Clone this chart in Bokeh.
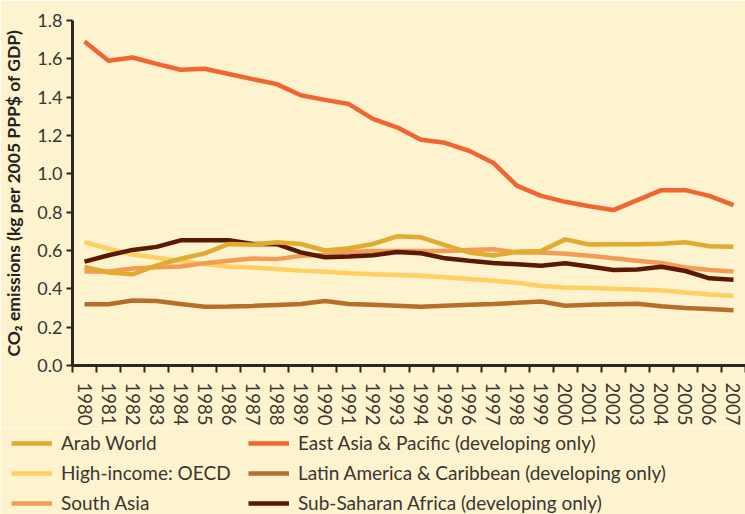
from bokeh.plotting import figure
from bokeh.layouts import column
from bokeh.models import Range1d, FixedTicker, Legend, LegendItem, NumeralTickFormatter
from bokeh.embed import file_html
from bokeh.resources import INLINE

years = list(range(1980, 2008))
arab_world = [0.514, 0.485, 0.476, 0.522, 0.557, 0.585, 0.634, 0.630, 0.643, 0.634, 0.600, 0.612, 0.634, 0.674, 0.669, 0.628, 0.590, 0.574, 0.593, 0.598, 0.658, 0.631, 0.632, 0.633, 0.635, 0.643, 0.622, 0.620]
east_asia = [1.690, 1.590, 1.607, 1.574, 1.543, 1.548, 1.521, 1.494, 1.468, 1.410, 1.386, 1.364, 1.287, 1.243, 1.178, 1.162, 1.120, 1.058, 0.937, 0.885, 0.854, 0.831, 0.811, 0.863, 0.915, 0.915, 0.885, 0.837]
high_income = [0.643, 0.609, 0.579, 0.562, 0.545, 0.528, 0.516, 0.511, 0.503, 0.495, 0.489, 0.481, 0.476, 0.472, 0.468, 0.460, 0.451, 0.442, 0.432, 0.415, 0.407, 0.404, 0.400, 0.397, 0.392, 0.381, 0.371, 0.362]
latin_america = [0.320, 0.320, 0.339, 0.336, 0.321, 0.306, 0.308, 0.311, 0.316, 0.321, 0.337, 0.321, 0.317, 0.312, 0.307, 0.312, 0.317, 0.321, 0.327, 0.334, 0.312, 0.317, 0.320, 0.322, 0.309, 0.300, 0.295, 0.288]
south_asia = [0.490, 0.490, 0.506, 0.512, 0.516, 0.533, 0.547, 0.558, 0.555, 0.572, 0.576, 0.592, 0.597, 0.598, 0.598, 0.598, 0.602, 0.606, 0.590, 0.590, 0.583, 0.573, 0.559, 0.547, 0.535, 0.511, 0.498, 0.490]
sub_saharan = [0.542, 0.575, 0.603, 0.619, 0.653, 0.654, 0.653, 0.634, 0.633, 0.590, 0.565, 0.569, 0.575, 0.592, 0.586, 0.559, 0.546, 0.535, 0.528, 0.520, 0.533, 0.516, 0.498, 0.501, 0.515, 0.493, 0.455, 0.448]

series_names = ["Arab World", "High-income: OECD", "South Asia",
                "East Asia & Pacific (developing only)",
                "Latin America & Caribbean (developing only)",
                "Sub-Saharan Africa (developing only)"]
series_values = [arab_world, high_income, south_asia, east_asia, latin_america, sub_saharan]
colors = ["#E2AA2E", "#FFCF63", "#F49C56", "#F26532", "#B76E2A", "#5A1900"]
y_ticks = [0.0, 0.2, 0.4, 0.6, 0.8, 1.0, 1.2, 1.4, 1.6, 1.8]

BG = "#FDF3CE"
FONT = "Lato"
DARK = "#2A2623"
TXT = "#3A3532"

p = figure(width=745, height=428, output_backend="svg", toolbar_location=None,
           x_range=Range1d(years[0] - 0.5, years[-1] + 0.5), y_range=Range1d(0, 1.8),
           min_border_left=72, min_border_right=0, min_border_top=20, min_border_bottom=60)
p.background_fill_color = BG
p.border_fill_color = BG
p.outline_line_color = None
p.grid.visible = False
p.frame_align = False

# draw order: back to front
order = [4, 1, 2, 5, 0, 3]
for i in order:
    p.line(years, series_values[i], line_color=colors[i], line_width=4.5)

xa = p.xaxis[0]
xa.ticker = FixedTicker(ticks=years, minor_ticks=[y - 0.5 for y in years] + [years[-1] + 0.5])
xa.major_tick_in = 0
xa.major_tick_out = 0
xa.minor_tick_in = 0
xa.minor_tick_out = 7
xa.minor_tick_line_color = DARK
xa.minor_tick_line_width = 2
xa.axis_line_color = DARK
xa.axis_line_width = 3
xa.major_label_orientation = "vertical"
xa.major_label_text_font = FONT
xa.major_label_text_font_size = "18.5px"
xa.major_label_text_color = TXT
xa.major_label_standoff = 10

ya = p.yaxis[0]
ya.ticker = FixedTicker(ticks=y_ticks)
ya.formatter = NumeralTickFormatter(format="0.0")
ya.major_tick_in = 0
ya.major_tick_out = 6
ya.major_tick_line_color = DARK
ya.major_tick_line_width = 2
ya.minor_tick_out = 0
ya.minor_tick_in = 0
ya.axis_line_color = DARK
ya.axis_line_width = 3
ya.major_label_text_font = FONT
ya.major_label_text_font_size = "18px"
ya.major_label_text_color = TXT
ya.major_label_standoff = 4
ya.axis_label = "CO₂ emissions (kg per 2005 PPP$ of GDP)"
ya.axis_label_text_font = FONT
ya.axis_label_text_font_size = "17.5px"
ya.axis_label_text_font_style = "bold"
ya.axis_label_text_color = "#222222"
ya.axis_label_standoff = 10

# legend panel: a second figure whose own line renderers carry the same series
lg = figure(width=745, height=86, output_backend="svg", toolbar_location=None,
            x_range=Range1d(0, 1), y_range=Range1d(0, 1),
            x_axis_location=None, y_axis_location=None,
            min_border_left=0, min_border_right=0, min_border_top=0, min_border_bottom=0)
lg.background_fill_color = BG
lg.border_fill_color = BG
lg.outline_line_color = None
lg.grid.visible = False
lg.frame_align = False
lg_renderers = [lg.line(years, series_values[i], line_color=colors[i], line_width=4.5) for i in range(6)]

def make_legend(idx, x):
    items = [LegendItem(label=series_names[i], renderers=[lg_renderers[i]]) for i in idx]
    return Legend(items=items, orientation="vertical",
                  location=(x, 0), padding=0, margin=0, spacing=7,
                  label_text_font=FONT, label_text_font_size="19px", label_text_color=TXT,
                  glyph_width=41, glyph_height=22, label_height=22, label_standoff=9,
                  background_fill_alpha=0, border_line_color=None)

lg.add_layout(make_legend([0, 1, 2], 11), "center")
lg.add_layout(make_legend([3, 4, 5], 248), "center")

layout = column(p, lg, spacing=0)
open("out.html", "w").write(file_html(layout, INLINE))
